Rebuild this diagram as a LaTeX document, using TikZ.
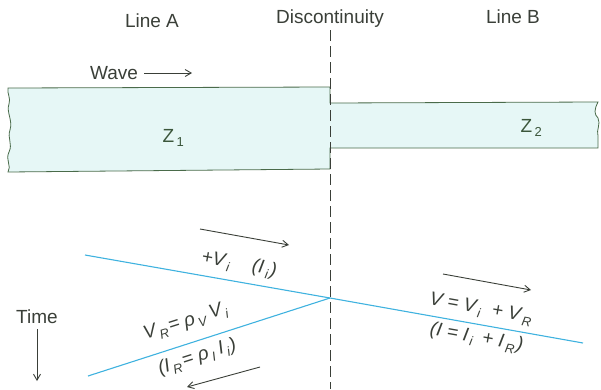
\documentclass[tikz,border=0pt]{standalone}
\usepackage{fontspec}
\setmainfont{Liberation Sans}
\usetikzlibrary{arrows.meta}
\definecolor{edge}{HTML}{4A6B4A}
\definecolor{linefill}{HTML}{E6F7F6}
\definecolor{wave}{HTML}{3FB2DF}
\definecolor{ink}{HTML}{3A3F38}
\tikzset{
  lbl/.style={text=ink,font=\fontsize{19}{22}\selectfont,inner sep=1pt},
  mlbl/.style={text=ink,font=\fontsize{19}{22}\selectfont\itshape,inner sep=1pt,align=center},
  outline/.style={draw=edge,line width=0.8pt,fill=linefill},
  cyanline/.style={draw=wave,line width=1.1pt},
  dir/.style={draw=ink,line width=0.9pt,-{Straight Barb[length=6pt,width=7pt]}},
  disc/.style={draw=ink,line width=0.8pt,dash pattern=on 11pt off 5pt}
}
\newcommand\sbs[1]{\kern0.12em\raisebox{-0.45ex}{\fontsize{13}{14}\selectfont #1}\kern0.08em}
\begin{document}
\begin{tikzpicture}[x=1pt,y=-1pt]
\useasboundingbox (0,0) rectangle (601,389);
% transmission lines
\path[outline] (8,88) -- (330,87) -- (330,103) -- (598,102)
  .. controls (594,110) and (594,114) .. (598,118)
  .. controls (601,124) and (596,130) .. (598,136) -- (598,148)
  -- (330,148) -- (330,169) -- (8,172)
  .. controls (12,166) and (5,160) .. (9,152)
  .. controls (13,144) and (7,138) .. (10,130)
  .. controls (13,120) and (6,112) .. (9,104)
  .. controls (11,98) and (7,94) .. (8,88) -- cycle;
% discontinuity
\coordinate (dtop) at (330,30);
\coordinate (dbot) at (330,389);
\draw[disc] (dtop) -- (dbot);
% headings
\node[lbl] (la) at (152,21) {Line A};
\node[lbl] (dc) at (330,19) {Discontinuity};
\node[lbl] (lb) at (513,17) {Line B};
\node[lbl] (wv) at (114,73) {Wave};
\coordinate (wv1) at (144,73);
\coordinate (wv2) at (192,73);
\draw[dir] (wv1) -- (wv2);
\node[lbl,text=edge!80!black] (z1) at (174,138) {Z\sbs{1}};
\node[lbl,text=edge!80!black] (z2) at (532,128) {Z\sbs{2}};
% waves
\coordinate (inc) at (85,255);
\coordinate (junc) at (330,298);
\coordinate (refl) at (88,376);
\coordinate (trans) at (583,343);
\draw[cyanline] (inc) -- (junc);
\draw[cyanline] (junc) -- (refl);
\draw[cyanline] (junc) -- (trans);
% direction arrows
\coordinate (a1) at (200,229);
\coordinate (a2) at (289,245);
\draw[dir] (a1) -- (a2);
\coordinate (b1) at (260,367);
\coordinate (b2) at (187,387);
\draw[dir] (b1) -- (b2);
\coordinate (c1) at (443,274);
\coordinate (c2) at (531,290);
\draw[dir] (c1) -- (c2);
% labels
\node[mlbl,rotate=-10] (li) at (239,265) {+V\sbs{i}\hspace{1.1em}(I\sbs{i})};
\node[mlbl,rotate=17.7] (lr) at (192,340) {V\sbs{R} = ρ\sbs{V}\,V\sbs{i}\\[15pt](I\sbs{R} = ρ\sbs{I}\,I\sbs{i})};
\node[mlbl,rotate=-10] (lt) at (479,324) {V = V\sbs{i}\hspace{0.5em}+ V\sbs{R}\\[7pt](I = I\sbs{i}\hspace{0.4em}+ I\sbs{R})};
% time
\node[lbl] (tm) at (37,317) {Time};
\coordinate (t2) at (37,381);
\draw[dir] (tm.south) ++(0,4) -- (t2);
\end{tikzpicture}
\end{document}
